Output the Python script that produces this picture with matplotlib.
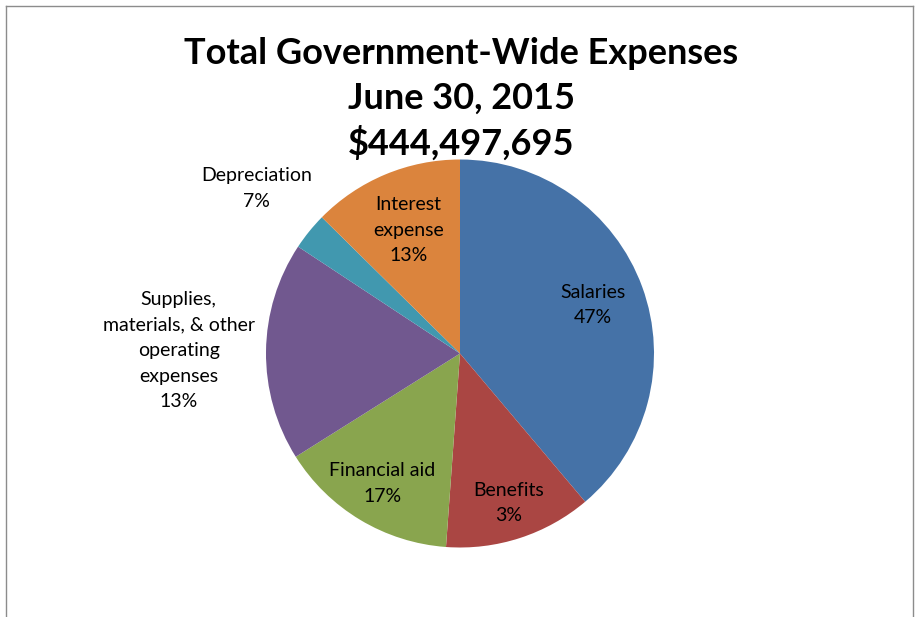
import numpy as np
import matplotlib
matplotlib.use("Agg")
import matplotlib.pyplot as plt
from matplotlib.lines import Line2D

plt.rcParams['font.family'] = ['Lato', 'DejaVu Sans']

# slice shares as drawn, and the printed data labels
categories = ['Salaries', 'Benefits', 'Financial aid',
              'Supplies,\nmaterials, & other\noperating\nexpenses',
              'Depreciation', 'Interest\nexpense']
shares = [38.8, 12.3, 14.9, 18.2, 3.1, 12.6]
pct_labels = ['47%', '3%', '17%', '13%', '7%', '13%']
colors = ['#4572A7', '#AA4643', '#89A54E', '#71588F', '#4198AF', '#DB843D']
label_dist = [0.73, 0.81, 0.78, 1.45, 1.35, 0.69]

title_lines = ['Total Government-Wide Expenses', 'June 30, 2015', '$444,497,695']

W, H = 915, 617
cx, cy, r_px = 460, 353.5, 194   # pie centre / radius in pixels

fig = plt.figure(figsize=(W / 100, H / 100), dpi=100)
ax = fig.add_axes([0, 0, 1, 1])

wedges, _ = ax.pie(shares, colors=colors, startangle=90, counterclock=False,
                   radius=1, wedgeprops=dict(linewidth=0))

for w, name, pct, d in zip(wedges, categories, pct_labels, label_dist):
    mid = np.deg2rad((w.theta1 + w.theta2) / 2)
    ax.text(d * np.cos(mid), d * np.sin(mid), name + '\n' + pct,
            ha='center', va='center', fontsize=14, linespacing=1.62)

# map axes so one data unit = r_px pixels, centred at (cx, cy)
ax.set_aspect('auto')
ax.set_xlim(-cx / r_px, (W - cx) / r_px)
ax.set_ylim((cy - H) / r_px, cy / r_px)
ax.axis('off')

# title, three lines
for txt, y in zip(title_lines, [53, 98, 143]):
    fig.text(461 / W, 1 - y / H, txt, ha='center', va='center',
             fontsize=26, fontweight='bold')

# chart border (bottom edge is cut off in the original)
bc = '#8c8c8c'
fig.add_artist(Line2D([6 / W, 6 / W], [0, 1 - 6 / H], color=bc, lw=1))
fig.add_artist(Line2D([6 / W, 913 / W], [1 - 6 / H, 1 - 6 / H], color=bc, lw=1))
fig.add_artist(Line2D([913 / W, 913 / W], [0, 1 - 6 / H], color=bc, lw=1))

fig.savefig('out.png', dpi=100)
